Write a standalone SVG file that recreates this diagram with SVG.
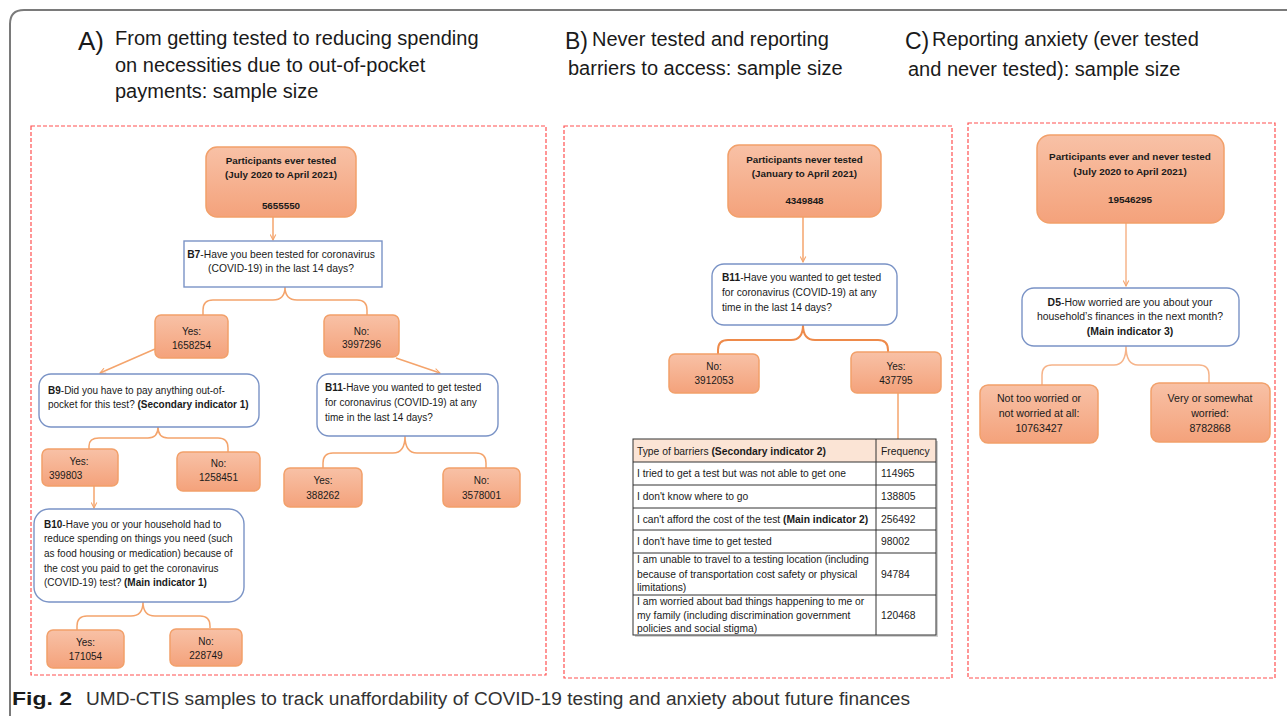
<svg xmlns="http://www.w3.org/2000/svg" width="1287" height="716" viewBox="0 0 1287 716">
<style>
text{font-family:"Liberation Sans",Arial,sans-serif;fill:#1a1a1a}
.title{font-size:20px}
.letter{font-size:26px}
.n{font-size:10px}
.nb{font-size:9.8px;font-weight:bold}
.t{font-size:10.3px}
.b{font-weight:bold}
.mid{text-anchor:middle}
.obox{fill:url(#og);stroke:#f2a06a;stroke-width:1.5}
.qbox{fill:#fff;stroke:#7a93c6;stroke-width:1.4}
.dash{fill:none;stroke:#ff5050;stroke-width:1.2;stroke-dasharray:4 2}
.con{fill:none;stroke:#f4a46c;stroke-width:1.5}
.conb{fill:none;stroke:#ee8a4a;stroke-width:2}
.grid{fill:none;stroke:#333;stroke-width:1}
</style>
<defs>
<linearGradient id="og" x1="0" y1="0" x2="0" y2="1">
<stop offset="0" stop-color="#f8c1a6"/>
<stop offset="1" stop-color="#f4a27b"/>
</linearGradient>
<marker id="ah" viewBox="0 0 10 10" refX="9" refY="5" markerWidth="7" markerHeight="7" orient="auto" markerUnits="userSpaceOnUse">
<path d="M1 1 L9 5 L1 9" fill="none" stroke="#f4a46c" stroke-width="1.5"/>
</marker>
</defs>
<rect width="1287" height="716" fill="#fff"/>
<path d="M10 716 L10 24 Q10 10 24 10 L1287 10" fill="none" stroke="#7a7a7a" stroke-width="2"/>

<g id="titles">
<text x="78" y="50" class="letter">A)</text>
<text x="115" y="45" class="title">From getting tested to reducing spending</text>
<text x="115" y="72" class="title">on necessities due to out-of-pocket</text>
<text x="115" y="98" class="title">payments: sample size</text>
<text x="565" y="49" class="letter" style="font-size:23px">B)</text>
<text x="592" y="46" class="title">Never tested and reporting</text>
<text x="568" y="75" class="title">barriers to access: sample size</text>
<text x="905" y="49" class="letter" style="font-size:23px">C)</text>
<text x="932" y="46" class="title">Reporting anxiety (ever tested</text>
<text x="908" y="76" class="title">and never tested): sample size</text>
</g>

<g id="panels">
<rect x="31" y="126" width="515" height="549" class="dash"/>
<rect x="564" y="126" width="388" height="552" class="dash"/>
<rect x="968" y="123" width="307" height="555" class="dash"/>
</g>

<g id="connectors">
<line x1="273" y1="217" x2="273" y2="240" class="con" marker-end="url(#ah)"/>
<path d="M285 287 Q285 300 273 300 L213 300 Q203 300 203 310 L203 315 M285 287 Q285 300 297 300 L357 300 Q367 300 367 310 L367 315" class="con"/>
<line x1="155" y1="349" x2="100" y2="373" class="con" marker-end="url(#ah)"/>
<line x1="396" y1="358" x2="440" y2="373" class="con" marker-end="url(#ah)"/>
<path d="M158 427 Q158 438 148 438 L99 438 Q89 438 89 446 L89 449 M158 427 Q158 438 168 438 L218 438 Q228 438 228 448 L228 452" class="con"/>
<line x1="94" y1="486" x2="94" y2="508" class="con" marker-end="url(#ah)"/>
<path d="M143 602 Q143 616 131 616 L87 616 Q77 616 77 626 L77 630 M143 602 Q143 616 155 616 L200 616 Q210 616 210 626 L210 628" class="con"/>
<path d="M405 436 Q405 453 393 453 L333 453 Q323 453 323 463 L323 468 M405 436 Q405 453 417 453 L476 453 Q486 453 486 463 L486 468" class="con"/>
<line x1="803" y1="217" x2="803" y2="262" class="con" marker-end="url(#ah)"/>
<path d="M803 325 Q803 340 791 340 L728 340 Q718 340 718 350 L718 354 M803 325 Q803 340 815 340 L878 340 Q888 340 888 350 L888 352" class="conb"/>
<line x1="898" y1="393" x2="898" y2="439" class="con"/>
<line x1="1126" y1="223" x2="1126" y2="286" class="con" marker-end="url(#ah)" style="stroke:#f6b48a"/>
<path d="M1126 346 Q1126 365 1114 365 L1052 365 Q1042 365 1042 375 L1042 385 M1126 346 Q1126 365 1138 365 L1199 365 Q1209 365 1209 375 L1209 383" class="con" style="stroke:#f6b48a"/>
</g>

<g id="a-top">
<rect x="206" y="147" width="150" height="70" rx="11" class="obox"/>
<text x="281" y="164" class="nb mid">Participants ever tested</text>
<text x="281" y="178" class="nb mid">(July 2020 to April 2021)</text>
<text x="281" y="209" class="nb mid">5655550</text>
</g>
<g id="a-b7">
<rect x="184" y="241" width="198" height="46" class="qbox"/>
<text x="281" y="258" class="n mid" style="font-size:10.3px"><tspan class="b">B7</tspan>-Have you been tested for coronavirus</text>
<text x="281" y="272" class="n mid" style="font-size:10.3px">(COVID-19) in the last 14 days?</text>
</g>
<g id="a-yes1">
<rect x="155" y="315" width="73" height="43" rx="6" class="obox"/>
<text x="191.5" y="335" class="n mid">Yes:</text>
<text x="191.5" y="348.5" class="n mid">1658254</text>
</g>
<g id="a-no1">
<rect x="324" y="315" width="75" height="42" rx="6" class="obox"/>
<text x="361.5" y="334.5" class="n mid">No:</text>
<text x="361.5" y="348" class="n mid">3997296</text>
</g>
<g id="a-b9">
<rect x="39" y="374" width="220" height="53" rx="12" class="qbox"/>
<text x="48" y="394" class="n"><tspan class="b">B9</tspan>-Did you have to pay anything out-of-</text>
<text x="48" y="408" class="n">pocket for this test? <tspan class="b">(Secondary indicator 1)</tspan></text>
</g>
<g id="a-yes2">
<rect x="42" y="449" width="76" height="37" rx="6" class="obox"/>
<text x="79" y="464.5" class="n mid">Yes:</text>
<text x="49" y="479" class="n">399803</text>
</g>
<g id="a-no2">
<rect x="177" y="452" width="83" height="39" rx="6" class="obox"/>
<text x="218.5" y="467" class="n mid">No:</text>
<text x="218.5" y="481" class="n mid">1258451</text>
</g>
<g id="a-b10">
<rect x="34" y="509" width="210" height="93" rx="15" class="qbox"/>
<text x="44" y="528" class="n"><tspan class="b">B10</tspan>-Have you or your household had to</text>
<text x="44" y="542" class="n">reduce spending on things you need (such</text>
<text x="44" y="557" class="n">as food housing or medication) because of</text>
<text x="44" y="572" class="n">the cost you paid to get the coronavirus</text>
<text x="44" y="586" class="n">(COVID-19) test? <tspan class="b">(Main indicator 1)</tspan></text>
</g>
<g id="a-yes3">
<rect x="47" y="630" width="77" height="38" rx="6" class="obox"/>
<text x="85.5" y="645.5" class="n mid">Yes:</text>
<text x="85.5" y="659.5" class="n mid">171054</text>
</g>
<g id="a-no3">
<rect x="170" y="629" width="72" height="37" rx="6" class="obox"/>
<text x="206" y="644.5" class="n mid">No:</text>
<text x="206" y="658.5" class="n mid">228749</text>
</g>
<g id="a-b11">
<rect x="317" y="374" width="181" height="62" rx="12" class="qbox"/>
<text x="325" y="391" class="n"><tspan class="b">B11</tspan>-Have you wanted to get tested</text>
<text x="325" y="406" class="n">for coronavirus (COVID-19) at any</text>
<text x="325" y="420.5" class="n">time in the last 14 days?</text>
</g>
<g id="a-yes4">
<rect x="284" y="468" width="78" height="39" rx="6" class="obox"/>
<text x="323" y="484" class="n mid">Yes:</text>
<text x="323" y="498.5" class="n mid">388262</text>
</g>
<g id="a-no4">
<rect x="443" y="468" width="77" height="39" rx="6" class="obox"/>
<text x="481.5" y="484" class="n mid">No:</text>
<text x="481.5" y="498.5" class="n mid">3578001</text>
</g>

<g id="b-top">
<rect x="728" y="145" width="153" height="72" rx="11" class="obox"/>
<text x="804.5" y="163" class="nb mid">Participants never tested</text>
<text x="804.5" y="177" class="nb mid">(January to April 2021)</text>
<text x="804.5" y="204" class="nb mid">4349848</text>
</g>
<g id="b-b11">
<rect x="712" y="264" width="185" height="61" rx="12" class="qbox"/>
<text x="722" y="281" class="n" style="font-size:10.2px"><tspan class="b">B11</tspan>-Have you wanted to get tested</text>
<text x="722" y="296" class="n" style="font-size:10.2px">for coronavirus (COVID-19) at any</text>
<text x="722" y="311" class="n" style="font-size:10.2px">time in the last 14 days?</text>
</g>
<g id="b-no">
<rect x="669" y="354" width="90" height="39" rx="6" class="obox"/>
<text x="714" y="370" class="n mid">No:</text>
<text x="714" y="383.5" class="n mid">3912053</text>
</g>
<g id="b-yes">
<rect x="851" y="352" width="90" height="41" rx="6" class="obox"/>
<text x="896" y="369.5" class="n mid">Yes:</text>
<text x="896" y="383.5" class="n mid">437795</text>
</g>
<g id="b-table">
<rect x="635" y="441" width="303" height="196" fill="#d0d0d0"/>
<rect x="633" y="439" width="303" height="196" fill="#fff"/>
<rect x="633" y="439" width="303" height="23" fill="#fbe4d5"/>
<rect x="633" y="439" width="303" height="196" class="grid"/>
<line x1="876" y1="439" x2="876" y2="635" class="grid"/>
<line x1="633" y1="462" x2="936" y2="462" class="grid"/>
<line x1="633" y1="485" x2="936" y2="485" class="grid"/>
<line x1="633" y1="508" x2="936" y2="508" class="grid"/>
<line x1="633" y1="530" x2="936" y2="530" class="grid"/>
<line x1="633" y1="553" x2="936" y2="553" class="grid"/>
<line x1="633" y1="595" x2="936" y2="595" class="grid"/>
<text x="637" y="454.5" class="t">Type of barriers <tspan class="b">(Secondary indicator 2)</tspan></text>
<text x="881" y="454.5" class="t">Frequency</text>
<text x="637" y="477" class="t">I tried to get a test but was not able to get one</text>
<text x="881" y="477" class="t">114965</text>
<text x="637" y="499.7" class="t">I don't know where to go</text>
<text x="881" y="499.7" class="t">138805</text>
<text x="637" y="523" class="t">I can't afford the cost of the test <tspan class="b">(Main indicator 2)</tspan></text>
<text x="881" y="523" class="t">256492</text>
<text x="637" y="545.4" class="t">I don't have time to get tested</text>
<text x="881" y="545.4" class="t">98002</text>
<text x="637" y="563" class="t">I am unable to travel to a testing location (including</text>
<text x="637" y="577.5" class="t">because of transportation cost safety or physical</text>
<text x="637" y="590.5" class="t">limitations)</text>
<text x="881" y="577.7" class="t">94784</text>
<text x="637" y="605.4" class="t">I am worried about bad things happening to me or</text>
<text x="637" y="618.7" class="t">my family (including discrimination government</text>
<text x="637" y="632.4" class="t">policies and social stigma)</text>
<text x="881" y="618.7" class="t">120468</text>
</g>

<g id="c-top">
<rect x="1037" y="135" width="187" height="88" rx="13" class="obox"/>
<text x="1130" y="160" class="nb mid" style="font-size:9.95px">Participants ever and never tested</text>
<text x="1130" y="175" class="nb mid" style="font-size:9.95px">(July 2020 to April 2021)</text>
<text x="1130" y="202.5" class="nb mid" style="font-size:9.95px">19546295</text>
</g>
<g id="c-d5">
<rect x="1022" y="288" width="217" height="58" rx="12" class="qbox"/>
<text x="1130" y="305.5" class="n mid" style="font-size:10.45px"><tspan class="b">D5</tspan>-How worried are you about your</text>
<text x="1130" y="320" class="n mid" style="font-size:10.45px">household’s finances in the next month?</text>
<text x="1130" y="334.5" class="n mid b" style="font-size:10.45px">(Main indicator 3)</text>
</g>
<g id="c-left">
<rect x="980" y="385" width="118" height="58" rx="8" class="obox"/>
<text x="1039" y="402" class="n mid" style="font-size:10.6px">Not too worried or</text>
<text x="1039" y="417" class="n mid" style="font-size:10.6px">not worried at all:</text>
<text x="1039" y="431.5" class="n mid" style="font-size:10.6px">10763427</text>
</g>
<g id="c-right">
<rect x="1151" y="383" width="119" height="59" rx="8" class="obox"/>
<text x="1210" y="402" class="n mid" style="font-size:10.6px">Very or somewhat</text>
<text x="1210" y="417" class="n mid" style="font-size:10.6px">worried:</text>
<text x="1210" y="431.5" class="n mid" style="font-size:10.6px">8782868</text>
</g>

<g id="caption">
<text x="12" y="705" style="font-size:19px;font-weight:bold" textLength="60" lengthAdjust="spacingAndGlyphs">Fig. 2</text>
<text x="86" y="705" style="font-size:18px;fill:#333" textLength="824" lengthAdjust="spacingAndGlyphs">UMD-CTIS samples to track unaffordability of COVID-19 testing and anxiety about future finances</text>
</g>
</svg>
